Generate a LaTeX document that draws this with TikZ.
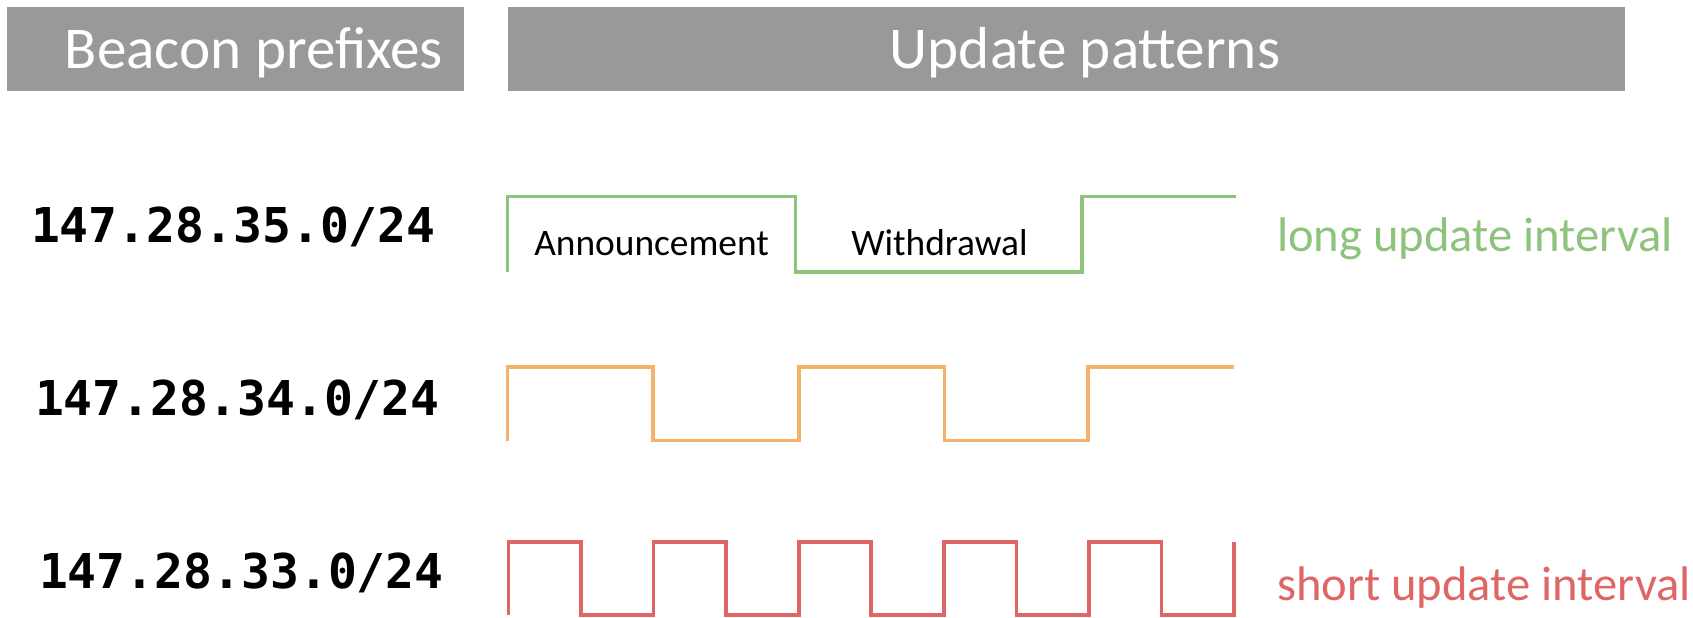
\documentclass[tikz,border=0pt]{standalone}
\usepackage{fontspec}
\setmainfont{Carlito}
\newfontfamily\prefixfont{DejaVu Sans Mono}[BoldFont={DejaVu Sans Mono Bold}]
\usepackage{tikz}

\definecolor{barGray}{HTML}{999999}
\definecolor{longGreen}{HTML}{8DC37A}
\definecolor{midOrange}{HTML}{F4B26B}
\definecolor{shortRed}{HTML}{E06666}

\begin{document}
\begin{tikzpicture}[
  x=0.5pt, y=-0.5pt,
  headbar/.style={fill=barGray, inner sep=0pt},
  headtext/.style={anchor=base, text=white, font=\fontsize{29.6}{34}\selectfont},
  prefixlabel/.style={anchor=base west, font=\prefixfont\bfseries\fontsize{24}{28}\selectfont},
  phaselabel/.style={anchor=base, font=\fontsize{18.7}{22}\selectfont},
  intervalnote/.style={anchor=base west, font=\fontsize{24.3}{28}\selectfont},
  wave/.style={line width=1.7pt}]

\useasboundingbox (0,0) rectangle (1693,617);

% Column headers
\node[headbar, minimum width=228.5pt, minimum height=42pt] (beaconBar) at (235.5,49) {};
\node[headtext] (beaconTitle) at (254,68.5) {Beacon prefixes};
\node[headbar, minimum width=558.5pt, minimum height=42pt] (updateBar) at (1066.5,49) {};
\node[headtext] (updateTitle) at (1085,68.5) {Update patterns};

% Prefix labels, one per row
\node[prefixlabel] (prefixLong) at (24,242) {147.28.35.0/24};
\node[prefixlabel] (prefixMid) at (28,415) {147.28.34.0/24};
\node[prefixlabel] (prefixShort) at (32,588) {147.28.33.0/24};

% Long interval
\draw[wave, longGreen] (507.5,272) |- (795.7,196.5) |- (1082,272) |- (1236,196.5);
\node[phaselabel] (announceText) at (651.6,255) {Announcement};
\node[phaselabel] (withdrawText) at (939.5,255) {Withdrawal};
\node[intervalnote, text=longGreen] (longNote) at (1270,251) {long update interval};

% Medium interval
\draw[wave, midOrange] (507.5,440.5) |- (653,367) |- (799,440.5) |- (944.5,367)
  |- (1088,440.5) |- (1234,367);

% Short interval
\draw[wave, shortRed] (508.5,615) |- (581,542) |- (653.6,615) |- (726,542)
  |- (799,615) |- (871,542) |- (944,615) |- (1016.5,542) |- (1089,615)
  |- (1161.5,542) |- (1234,615) -- (1234,542);
\node[intervalnote, text=shortRed] (shortNote) at (1270,600) {short update interval};

\end{tikzpicture}
\end{document}
